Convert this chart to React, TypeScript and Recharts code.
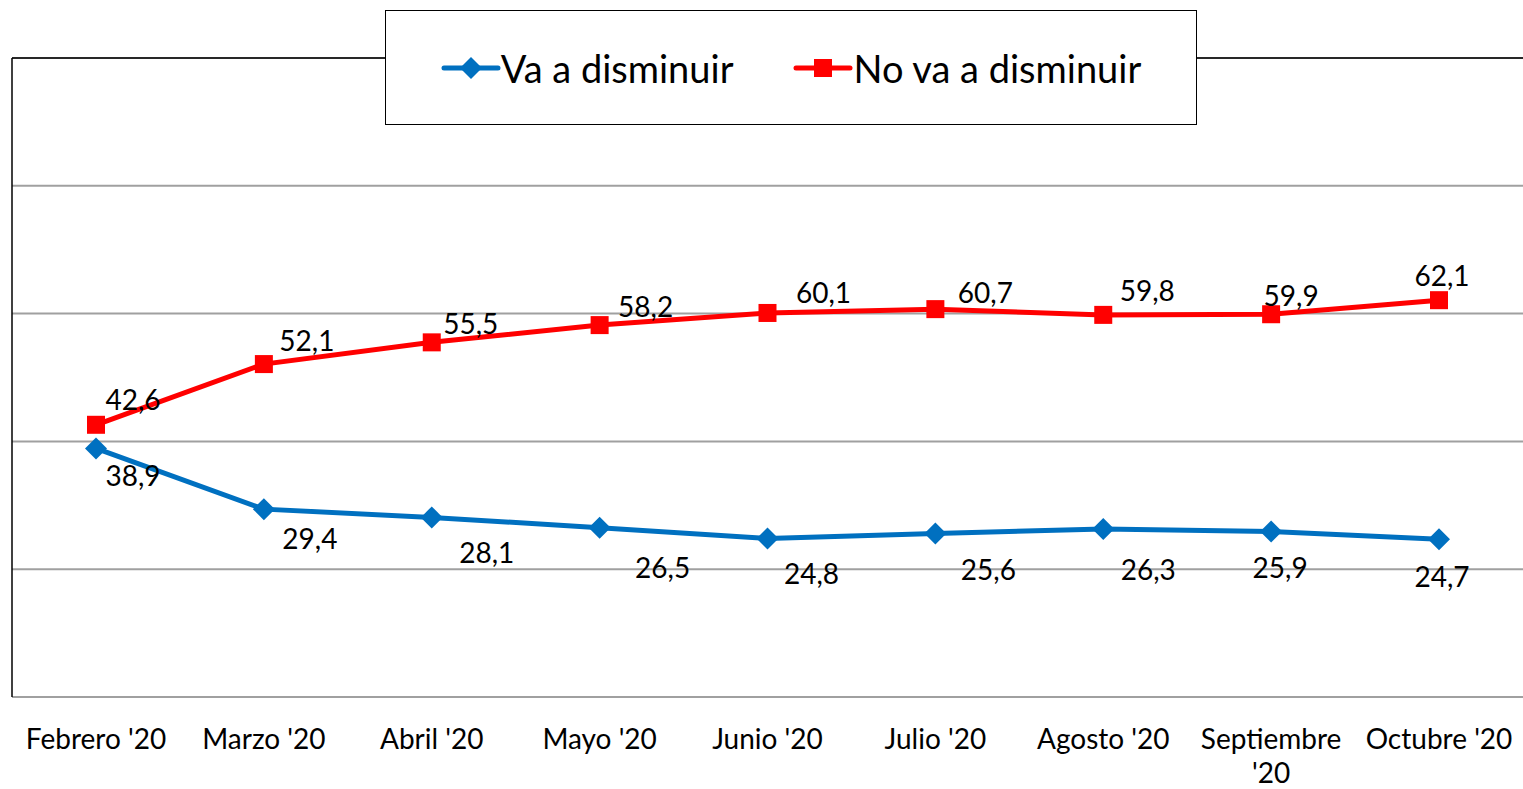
import { LineChart, Line, XAxis, YAxis, CartesianGrid, LabelList, ReferenceLine } from "recharts";

const months = ["Febrero '20", "Marzo '20", "Abril '20", "Mayo '20", "Junio '20", "Julio '20", "Agosto '20", "Septiembre '20", "Octubre '20"];
const vaDisminuir = [38.9, 29.4, 28.1, 26.5, 24.8, 25.6, 26.3, 25.9, 24.7];
const noVaDisminuir = [42.6, 52.1, 55.5, 58.2, 60.1, 60.7, 59.8, 59.9, 62.1];
const yTicks = [0, 20, 40, 60, 80, 100];

// hand-placed label nudges, as in the original sheet
const RED_DX = [37, 43, 39, 46, 56, 50, 44, 20, 3];
const RED_DY = [-26, -24, -19, -19, -21, -17, -25, -19, -25];
const BLUE_DX = [37, 46, 55, 63, 44, 53, 45, 9, 3];
const BLUE_DY = [27, 29, 35, 39, 34, 36, 40, 36, 37];

const BLUE = "#0070C0";
const RED = "#FF0000";
const FONT = "Lato, 'Open Sans', sans-serif";

const data = months.map((m, i) => ({ month: m, va: vaDisminuir[i], noVa: noVaDisminuir[i] }));

function Diamond({ cx, cy }: any) {
  if (cx == null || cy == null) return null;
  const r = 11;
  return <path d={`M${cx},${cy - r}L${cx + r},${cy}L${cx},${cy + r}L${cx - r},${cy}Z`} fill={BLUE} />;
}

function Square({ cx, cy }: any) {
  if (cx == null || cy == null) return null;
  const s = 9;
  return <rect x={cx - s} y={cy - s} width={s * 2} height={s * 2} fill={RED} />;
}

const makeLabel = (dx: number[], dy: number[]) => (props: any) => {
  const { x, y, value, index } = props;
  return (
    <text
      x={x + dx[index]}
      y={y + dy[index]}
      textAnchor="middle"
      dominantBaseline="central"
      fontSize={28}
      fontFamily={FONT}
      fill="#000"
    >
      {String(value).replace(".", ",")}
    </text>
  );
};

function MonthTick({ x, y, payload }: any) {
  const words = String(payload.value);
  const lines = words.startsWith("Septiembre") ? ["Septiembre", "'20"] : [words];
  return (
    <text x={x} y={y + 44} textAnchor="middle" fontSize={28} fontFamily={FONT} fill="#000">
      {lines.map((l, i) => (
        <tspan key={i} x={x} dy={i === 0 ? 0 : 34}>
          {l}
        </tspan>
      ))}
    </text>
  );
}

function LegendBox() {
  const item = (color: string, label: string, marker: "d" | "s") => (
    <div style={{ display: "flex", alignItems: "center" }}>
      <svg width={60} height={30}>
        <line x1={3} y1={15} x2={57} y2={15} stroke={color} strokeWidth={5} strokeLinecap="round" />
        {marker === "d" ? (
          <path d="M30,4L41,15L30,26L19,15Z" fill={color} />
        ) : (
          <rect x={21} y={6} width={18} height={18} fill={color} />
        )}
      </svg>
      <span style={{ fontSize: 38, fontFamily: FONT, color: "#000" }}>{label}</span>
    </div>
  );
  return (
    <div
      style={{
        position: "absolute",
        left: 385,
        top: 10,
        width: 812,
        height: 115,
        boxSizing: "border-box",
        border: "1.5px solid #000",
        background: "#fff",
        display: "flex",
        alignItems: "center",
        justifyContent: "center",
        gap: 60,
      }}
    >
      {item(BLUE, "Va a disminuir", "d")}
      {item(RED, "No va a disminuir", "s")}
    </div>
  );
}

export default function App() {
  return (
    <div style={{ position: "relative", width: 1523, height: 789, background: "#fff" }}>
      <style>{"body{margin:0}"}</style>
      <LineChart width={1523} height={789} data={data} margin={{ top: 58, right: 0, left: 11, bottom: 62 }}>
        <CartesianGrid vertical={false} stroke="#a0a0a0" strokeWidth={2} />
        <XAxis
          dataKey="month"
          height={30}
          axisLine={false}
          tickLine={false}
          interval={0}
          padding={{ left: 84, right: 84 }}
          tick={<MonthTick />}
        />
        <YAxis
          width={1}
          domain={[0, 100]}
          ticks={yTicks}
          tick={() => <g />}
          tickLine={false}
          axisLine={{ stroke: "#000", strokeWidth: 1.5 }}
        />
        <ReferenceLine y={100} stroke="#000" strokeWidth={1.5} />
        <Line
          dataKey="va"
          name="Va a disminuir"
          stroke={BLUE}
          strokeWidth={5}
          dot={<Diamond />}
          isAnimationActive={false}
        >
          <LabelList dataKey="va" content={makeLabel(BLUE_DX, BLUE_DY)} />
        </Line>
        <Line
          dataKey="noVa"
          name="No va a disminuir"
          stroke={RED}
          strokeWidth={5}
          dot={<Square />}
          isAnimationActive={false}
        >
          <LabelList dataKey="noVa" content={makeLabel(RED_DX, RED_DY)} />
        </Line>
      </LineChart>
      <LegendBox />
    </div>
  );
}
